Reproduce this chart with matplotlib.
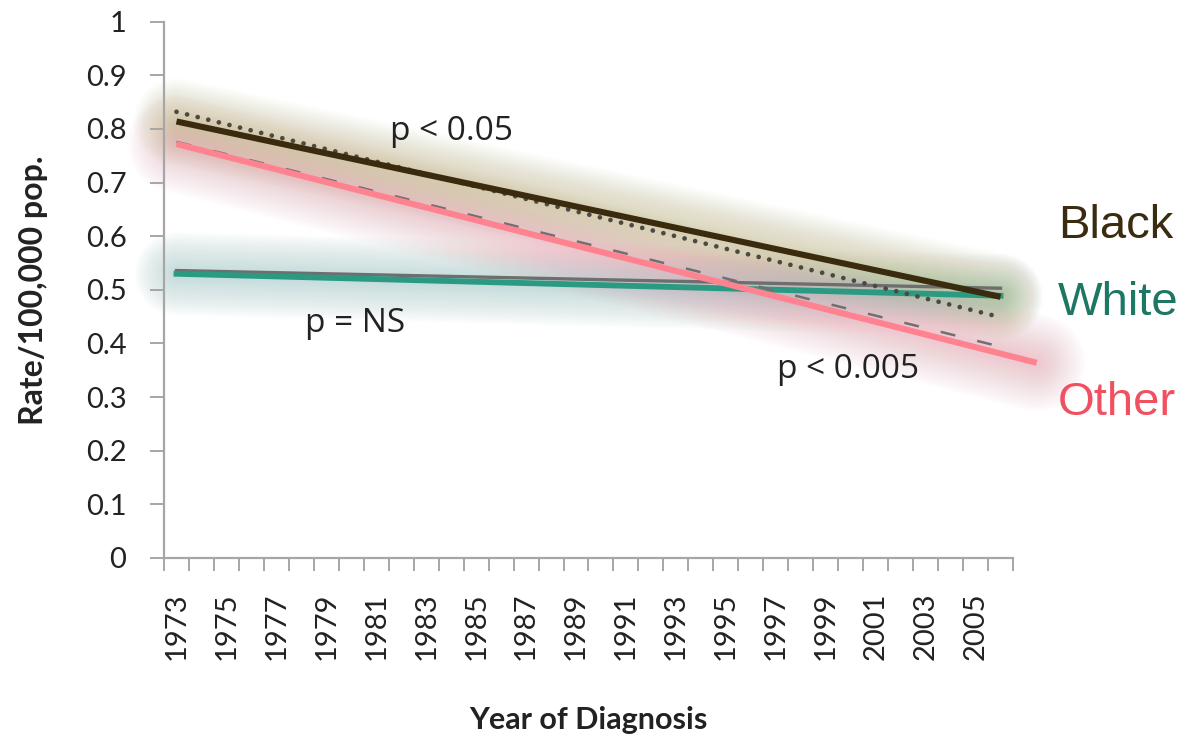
import numpy as np
import matplotlib.pyplot as plt

# trend line endpoints (category axis, one slot per year)
years = [1973, 2006]
other_years = [1973, 2007.45]   # the pink fit runs past the last category

black_fit = [0.814, 0.487]
black_obs = [0.832, 0.449]      # dotted
white_fit = [0.530, 0.489]
white_obs = [0.536, 0.503]      # thin grey
other_fit = [0.772, 0.364]
other_obs = [0.776, 0.394]      # dashed

year_labels = list(range(1973, 2006, 2))
y_ticks = [0, 0.1, 0.2, 0.3, 0.4, 0.5, 0.6, 0.7, 0.8, 0.9, 1]
y_labels = ['0', '0.1', '0.2', '0.3', '0.4', '0.5', '0.6', '0.7', '0.8', '0.9', '1']

fig = plt.figure(figsize=(11.97, 7.44), dpi=100)
ax = fig.add_axes([164 / 1197, 1 - 558 / 744, 849 / 1197, 536.3 / 744])
ax.set_xlim(1972.5, 2006.5)
ax.set_ylim(0, 1)


def glow(x, y, color, width, a=0.022, z=1):
    # soft halo: stack of wide translucent strokes
    for w in np.linspace(width, 6, 26):
        ax.plot(x, y, color=color, lw=w, alpha=a, solid_capstyle='round',
                zorder=z, clip_on=False)


glow(years, white_fit, '#9cc6c6', 60, 0.022)
glow(other_years, other_fit, '#eea2ae', 70, 0.022)
glow(years, black_fit, '#b8b070', 62, 0.02)

ax.plot(years, white_obs, color='#6e6e6e', lw=2.4, zorder=3)
ax.plot(years, white_fit, color='#2a9a82', lw=4.2, zorder=4)
ax.plot(years, black_obs, color='#4a4a40', lw=3.4, zorder=5,
        linestyle=(0, (0.01, 2.3)), dash_capstyle='round')
ax.plot(years, black_fit, color='#3a2a0e', lw=4.4, zorder=6,
        solid_capstyle='butt')
ax.plot(years, other_obs, color='#707070', lw=1.8, zorder=6,
        linestyle=(0, (6, 9)))
ax.plot(other_years, other_fit, color='#ff8290', lw=4.4, zorder=7,
        solid_capstyle='butt', clip_on=False)

for s in ['top', 'right']:
    ax.spines[s].set_visible(False)
for s in ['left', 'bottom']:
    ax.spines[s].set_color('#a6a6a6')
    ax.spines[s].set_linewidth(1.6)

tick_font = dict(family='Lato', size=21, color='#222222')
ax.set_yticks(y_ticks)
ax.set_yticklabels(y_labels, fontdict=tick_font)
ax.tick_params(axis='y', length=10, width=1.4, color='#a6a6a6', pad=17)

ax.set_xticks(year_labels)
ax.set_xticklabels([str(y) for y in year_labels], fontdict=tick_font,
                   rotation=90)
ax.tick_params(axis='x', which='major', length=0, pad=25)
ax.set_xticks(np.arange(1972.5, 2007, 1), minor=True)
ax.tick_params(axis='x', which='minor', length=9, width=1.4, color='#a6a6a6')

ax.set_ylabel('Rate/100,000 pop.', family='Lato', weight='bold', size=23,
              color='#222222', va='center')
ax.yaxis.set_label_coords(-0.154, 0.5)
ax.set_xlabel('Year of Diagnosis', family='Lato', weight='bold', size=22,
              color='#222222', va='center')
ax.xaxis.set_label_coords(0.5, -0.302)

p_font = dict(family='Open Sans', size=24, color='#222222')
fig.text(390 / 1197, 1 - 140 / 744, 'p < 0.05', **p_font)
fig.text(305 / 1197, 1 - 332 / 744, 'p = NS', **p_font)
fig.text(777 / 1197, 1 - 378 / 744, 'p < 0.005', **p_font)

lab_font = dict(family='Liberation Sans', size=34)
fig.text(1058 / 1197, 1 - 238 / 744, 'Black', color='#3a2c10', **lab_font)
fig.text(1058 / 1197, 1 - 315 / 744, 'White', color='#1e7664', **lab_font)
fig.text(1058 / 1197, 1 - 415 / 744, 'Other', color='#f0505f', **lab_font)

fig.savefig('out.png', dpi=100)
